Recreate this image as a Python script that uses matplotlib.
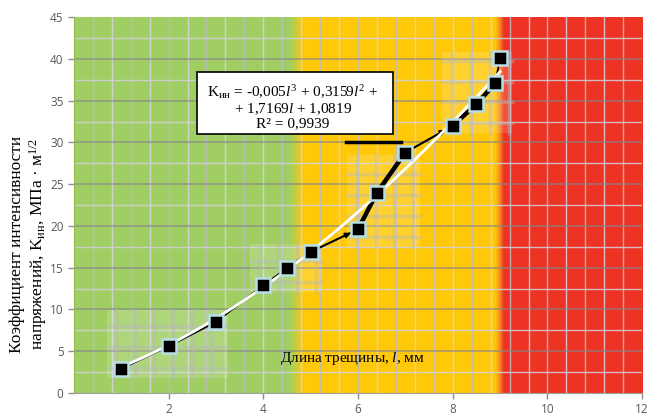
import numpy as np
import matplotlib
matplotlib.use("Agg")
import matplotlib.pyplot as plt
from matplotlib.patches import Rectangle

plt.rcParams['mathtext.fontset'] = 'custom'
plt.rcParams['mathtext.rm'] = 'Liberation Serif'
plt.rcParams['mathtext.it'] = 'Liberation Serif:italic'

# data
crack_len = [1, 2, 3, 4, 4.5, 5, 6, 6.4, 7, 8, 8.5, 8.9, 9.0]
k_values = [2.9, 5.6, 8.5, 12.9, 14.95, 16.9, 19.6, 24.0, 28.8, 32.0, 34.6, 37.1, 40.1]
fit_coef = [-0.005, 0.3159, 1.7169, 1.0819]
x_ticks = [2, 4, 6, 8, 10, 12]
y_ticks = [0, 5, 10, 15, 20, 25, 30, 35, 40, 45]

fig = plt.figure(figsize=(6.48, 4.18), dpi=100)
ax = fig.add_axes([0.114, 0.0598, 0.877, 0.899])
ax.set_xlim(0, 12)
ax.set_ylim(0, 45)

# background zones
green = np.array([0.63, 0.81, 0.385])
yellow = np.array([1.0, 0.79, 0.04])
orange = np.array([0.98, 0.55, 0.10])
red = np.array([0.933, 0.20, 0.14])
xs = np.linspace(0, 12, 1200)
cols = np.zeros((1, len(xs), 3))
for i, x in enumerate(xs):
    if x < 4.55:
        c = green
    elif x < 4.85:
        t = (x - 4.55) / 0.3
        c = green * (1 - t) + yellow * t
    elif x < 8.88:
        c = yellow
    elif x < 8.98:
        t = (x - 8.88) / 0.10
        c = yellow * (1 - t) + orange * t
    elif x < 9.07:
        t = (x - 8.98) / 0.09
        c = orange * (1 - t) + red * t
    else:
        c = red
    cols[0, i] = c
ax.imshow(cols, extent=[0, 12, 0, 45], aspect='auto', zorder=0, interpolation='bilinear')

# background grid
for k, gx in enumerate(np.arange(0.4, 12, 0.4)):
    col = (0.84, 0.83, 0.90) if k % 2 else (0.74, 0.74, 0.78)
    ax.axvline(gx, color=col, lw=1.0, alpha=0.85, zorder=1)
for k, gy in enumerate(np.arange(2.5, 45, 2.5)):
    if k % 2:
        ax.axhline(gy, color=(0.52, 0.52, 0.55), lw=1.2, alpha=0.7, zorder=1)
    else:
        ax.axhline(gy, color=(0.82, 0.82, 0.88), lw=1.0, alpha=0.85, zorder=1)

# decorative windows around point groups
windows = [(0.7, 1.8, 3.26, 9.9), (3.72, 12.1, 5.24, 17.9), (5.77, 17.5, 7.3, 28.5), (7.78, 31.1, 9.26, 40.8)]
for (x0, y0, x1, y1) in windows:
    ax.add_patch(Rectangle((x0, y0), x1 - x0, y1 - y0, facecolor='white', alpha=0.15, edgecolor='none', zorder=1.5))
    for gx in np.arange(x0 + 0.2, x1, 0.4):
        ax.plot([gx, gx], [y0, y1], color=(0.72, 0.72, 0.74), lw=2.5, alpha=0.4, zorder=1.6)
    for gy in np.arange(y0 + 1.2, y1, 2.5):
        ax.plot([x0, x1], [gy, gy], color=(0.72, 0.72, 0.74), lw=2.5, alpha=0.4, zorder=1.6)

ax.plot([5.75, 6.9], [30, 30], color='black', lw=2.5, zorder=3)

# black polyline
ax.plot(crack_len, k_values, color='black', lw=1.3, zorder=3)
ax.plot(crack_len[6:9], k_values[6:9], color='black', lw=3.2, zorder=3)
ax.plot(crack_len[9:12], k_values[9:12], color='black', lw=3.2, zorder=3)
for i in (5, 8):
    ax.annotate('', xy=(crack_len[i + 1] - 0.1, k_values[i + 1] - 0.25 * (k_values[i + 1] - k_values[i]) / (crack_len[i + 1] - crack_len[i]) * 0.4),
                xytext=(crack_len[i], k_values[i]),
                arrowprops=dict(arrowstyle='-|>', color='black', lw=1.2, mutation_scale=8), zorder=3)

# polynomial fit
fx = np.linspace(1, 9, 200)
fy = np.polyval(fit_coef, fx)
ax.plot(fx, fy, color='white', lw=2.0, zorder=4)

# markers
ax.plot(crack_len, k_values, ls='none', marker='s', ms=10, mfc='black', mec=(0.72, 0.87, 0.90), mew=1.8, zorder=5)

# equation box
ax.add_patch(Rectangle((2.60, 31.0), 4.14, 7.5, facecolor='white', edgecolor='black', lw=1.2, zorder=6))
eq = ("K$_{\\mathregular{ин}}$ = -0,005$l^3$ + 0,3159$l^2$ +\n"
      "+ 1,7169$l$ + 1,0819\n"
      "R² = 0,9939")
ax.text(4.62, 34.3, eq, ha='center', va='center', fontsize=11, family='Liberation Serif',
        linespacing=1.0, zorder=7)

# x label inside
ax.text(5.88, 4.1, "Длина трещины, $l$, мм", ha='center', va='center', fontsize=11,
        family='Liberation Serif', zorder=6)

ax.set_ylabel("Коэффициент интенсивности\nнапряжений, K$_{\\mathregular{ин}}$, МПа · м$^{1/2}$",
              fontsize=12.5, family='Liberation Serif', linespacing=1.1)
ax.yaxis.set_label_coords(-0.044, 0.396)

ax.set_xticks(x_ticks)
ax.set_yticks(y_ticks)
ax.tick_params(axis='both', colors='#8c8c8c', labelcolor='#595959', labelsize=8.5, length=4, width=1)
for lab in ax.get_xticklabels() + ax.get_yticklabels():
    lab.set_family('Open Sans')
ax.tick_params(axis='x', pad=3)

for s in ('top', 'right'):
    ax.spines[s].set_visible(False)
ax.spines['bottom'].set_color('#a0a0a0')
ax.spines['left'].set_color('#8bbd4f')
ax.spines['bottom'].set_zorder(7)

fig.savefig('out.png', dpi=100)
